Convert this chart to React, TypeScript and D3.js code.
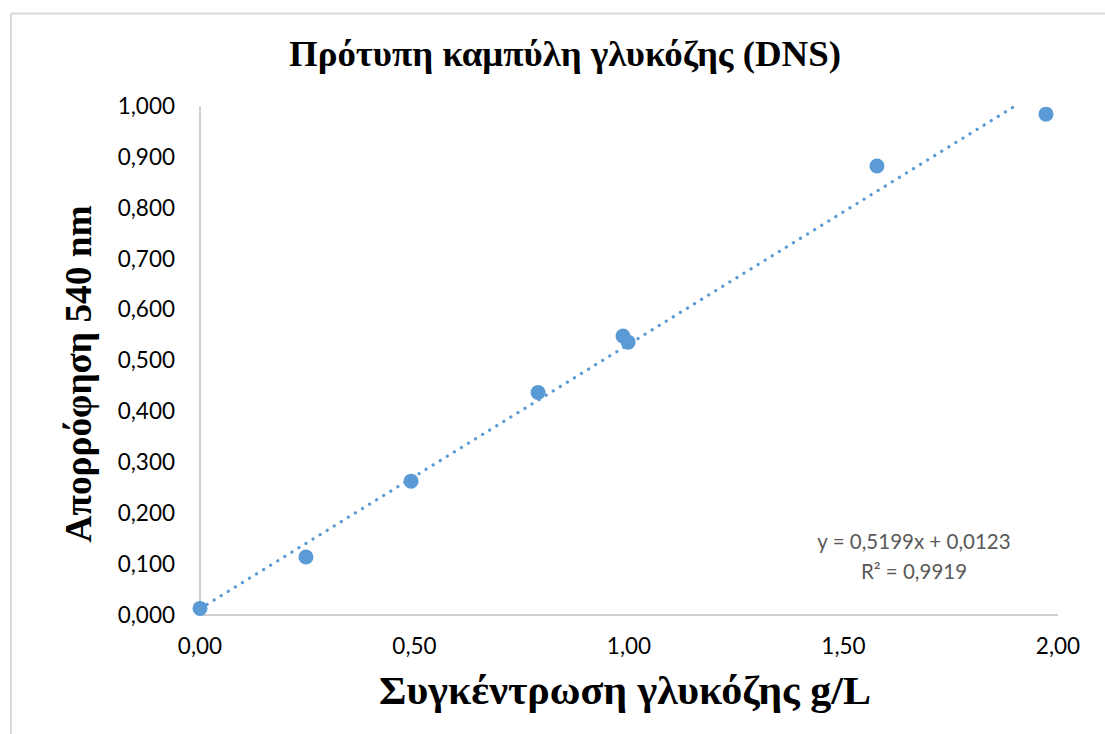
import React from "react";
import * as d3 from "d3";

const concentration = [0.0, 0.247, 0.492, 0.788, 0.986, 0.998, 1.578, 1.972];
const absorbance = [0.013, 0.114, 0.263, 0.437, 0.548, 0.536, 0.882, 0.984];
const yTicks = [0, 0.1, 0.2, 0.3, 0.4, 0.5, 0.6, 0.7, 0.8, 0.9, 1.0];
const xTicks = [0, 0.5, 1.0, 1.5, 2.0];
const slope = 0.5199;
const intercept = 0.0123;
const eqText = "y = 0,5199x + 0,0123";
const r2Text = "R² = 0,9919";
const title = "Πρότυπη καμπύλη γλυκόζης (DNS)";
const xTitle = "Συγκέντρωση γλυκόζης g/L";
const yTitle = "Απορρόφηση 540 nm";

const W = 1105;
const H = 734;
const left = 200, right = 1058, top = 106, bottom = 615;

export default function App() {
  const x = d3.scaleLinear().domain([0, 2]).range([left, right]);
  const y = d3.scaleLinear().domain([0, 1]).range([bottom, top]);
  const fmtY = (v: number) => d3.format(".3f")(v).replace(".", ",");
  const fmtX = (v: number) => d3.format(".2f")(v).replace(".", ",");
  const trend = d3.line<number>().x((d) => x(d)).y((d) => y(slope * d + intercept));
  const tickFont = "Lato, 'Open Sans', sans-serif";
  const serif = "'Liberation Serif', 'Times New Roman', serif";
  return (
    <svg width={W} height={H} style={{ position: "absolute", left: 0, top: 0, background: "#fff" }}>
      <defs>
        <clipPath id="plotclip">
          <rect x={left - 10} y={top} width={right - left + 20} height={bottom - top + 10} />
        </clipPath>
      </defs>
      <rect x={0} y={0} width={W} height={H} fill="#fff" />
      {/* chart border */}
      <line x1={11} y1={13.5} x2={W} y2={13.5} stroke="#d9d9d9" strokeWidth={2} />
      <line x1={11} y1={13.5} x2={11} y2={H} stroke="#d9d9d9" strokeWidth={2} />

      {/* axes */}
      <line x1={left} y1={top} x2={left} y2={bottom} stroke="#bfbfbf" strokeWidth={1.5} />
      <line x1={left} y1={bottom} x2={right} y2={bottom} stroke="#bfbfbf" strokeWidth={1.5} />

      {yTicks.map((t) => (
        <text key={"y" + t} x={175} y={y(t)} dy="0.35em" textAnchor="end" fontFamily={tickFont} fontSize={22.5} fill="#000">
          {fmtY(t)}
        </text>
      ))}
      {xTicks.map((t) => (
        <text key={"x" + t} x={x(t)} y={654} textAnchor="middle" fontFamily={tickFont} fontSize={22.5} fill="#000">
          {fmtX(t)}
        </text>
      ))}

      {/* trendline */}
      <g clipPath="url(#plotclip)">
        <path
          d={trend([0, 2]) || ""}
          fill="none"
          stroke="#5b9bd5"
          strokeWidth={3.2}
          strokeDasharray="0.1 8.2"
          strokeLinecap="round"
        />
      </g>

      {/* points */}
      {concentration.map((c, i) => (
        <circle key={i} cx={x(c)} cy={y(absorbance[i])} r={7.5} fill="#5b9bd5" />
      ))}

      {/* equation */}
      <text x={914} y={549} textAnchor="middle" fontFamily={tickFont} fontSize={20.5} fill="#595959">
        {eqText}
      </text>
      <text x={914} y={579} textAnchor="middle" fontFamily={tickFont} fontSize={20.5} fill="#595959">
        {r2Text}
      </text>

      {/* titles */}
      <text x={565} y={66} textAnchor="middle" fontFamily={serif} fontWeight="bold" fontSize={36}
        textLength={552} lengthAdjust="spacingAndGlyphs" fill="#000">
        {title}
      </text>
      <text x={625} y={704} textAnchor="middle" fontFamily={serif} fontWeight="bold" fontSize={41}
        textLength={492} lengthAdjust="spacingAndGlyphs" fill="#000">
        {xTitle}
      </text>
      <text
        transform={`translate(91, ${374}) rotate(-90)`}
        textAnchor="middle"
        fontFamily={serif}
        fontWeight="bold"
        fontSize={37}
        textLength={337}
        lengthAdjust="spacingAndGlyphs"
        fill="#000"
      >
        {yTitle}
      </text>
    </svg>
  );
}
